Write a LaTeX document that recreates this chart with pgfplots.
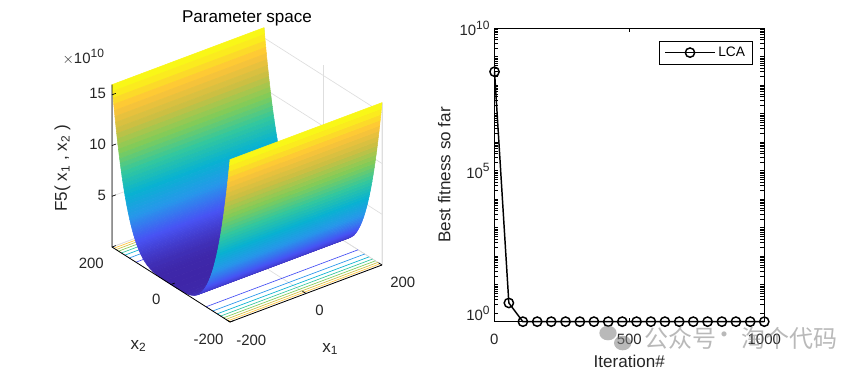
\documentclass[border=0pt]{standalone}
\usepackage{pgfplots}
\pgfplotsset{compat=1.18}
\usepackage{fontspec}
\setmainfont{Liberation Sans}
\newfontfamily\cjk{Noto Sans CJK SC}
\definecolor{p0}{rgb}{.2422,.1504,.6603}
\definecolor{p1}{rgb}{.2810,.3228,.9579}
\definecolor{p2}{rgb}{.1540,.5902,.9218}
\definecolor{p3}{rgb}{.0300,.7000,.8200}
\definecolor{p4}{rgb}{.2000,.7800,.6200}
\definecolor{p5}{rgb}{.5044,.7993,.3480}
\definecolor{p6}{rgb}{.8000,.7500,.2600}
\definecolor{p7}{rgb}{.9970,.7659,.2199}
\definecolor{p8}{rgb}{.9769,.9839,.0805}
\definecolor{tk}{gray}{.15}
\definecolor{gr}{gray}{.87}
\pgfplotsset{colormap={parula}{rgb=(.2422,.1504,.6603) rgb=(.2810,.3228,.9579) rgb=(.1540,.5902,.9218) rgb=(.0300,.7000,.8200) rgb=(.2000,.7800,.6200) rgb=(.5044,.7993,.3480) rgb=(.8000,.7500,.2600) rgb=(.9970,.7659,.2199) rgb=(.9769,.9839,.0805)}}
\newcommand{\pw}[1]{10\raisebox{.45em}{\fontsize{9}{9}\selectfont #1}}
\begin{document}
\begin{tikzpicture}
\path[use as bounding box] (0,0) rectangle (650.25pt,278.25pt);
\begin{axis}[
  at={(84pt,36.75pt)},anchor=south west,
  x={(0.285pt,0.1069pt)},y={(-0.22125pt,0.1406pt)},z={(0pt,7.61pt)},
  xmin=-200,xmax=200,ymin=-200,ymax=200,zmin=0,zmax=16,
  xtick={-200,0,200},ytick={-200,0,200},ztick={5,10,15},
  xticklabels={-200,0\kern10.5pt,200},
  yticklabels={-200,\kern7.5pt 0,200},
  grid=major,grid style={gr,line width=.5pt},
  major tick length=0pt,tick style={draw=none},
  axis line style={draw=none},
  clip=false,
  colormap name=parula,point meta min=0,point meta max=15.6,
  scaled ticks=false,
  /pgf/number format/assume math mode=true,
  tick label style={font=\fontsize{11.2}{12}\selectfont,text=tk},
  x tick label style={xshift=10pt,yshift=-3pt},
  y tick label style={xshift=-8pt,yshift=-1pt},
  z tick label style={xshift=-1pt},
  label style={font=\fontsize{12.8}{14}\selectfont,text=tk},
  xlabel={x\textsubscript{1}},ylabel={x\textsubscript{2}},zlabel={F5( x\textsubscript{1} , x\textsubscript{2} )},
  xlabel style={xshift=-3pt,yshift=-3pt},
  ylabel style={xshift=1.75pt,yshift=-8.5pt},
  zlabel style={xshift=-5pt,yshift=6.75pt},
  title={Parameter space},title style={font=\fontsize{12.8}{14}\selectfont,text=black,yshift=-8pt},
]
\draw[gr,line width=.5pt] (axis cs:200,-200,16) -- (axis cs:200,-200,0) -- (axis cs:200,200,0) -- (axis cs:-200,200,0);
\draw[gr,line width=.5pt] (axis cs:200,200,0) -- (axis cs:200,200,16);
\addplot3[p1,line width=.5pt,forget plot] coordinates {(-200,-118.9,0)(200,-118.9,0)};
\addplot3[p2,line width=.5pt,forget plot] coordinates {(-200,-141.4,0)(200,-141.4,0)};
\addplot3[p3,line width=.5pt,forget plot] coordinates {(-200,-156.5,0)(200,-156.5,0)};
\addplot3[p4,line width=.5pt,forget plot] coordinates {(-200,-168.2,0)(200,-168.2,0)};
\addplot3[p5,line width=.5pt,forget plot] coordinates {(-200,-177.8,0)(200,-177.8,0)};
\addplot3[p6,line width=.5pt,forget plot] coordinates {(-200,-186.1,0)(200,-186.1,0)};
\addplot3[p7,line width=.5pt,forget plot] coordinates {(-200,-193.4,0)(200,-193.4,0)};
\addplot3[p1,line width=.5pt,forget plot] coordinates {(-200,118.9,0)(200,118.9,0)};
\addplot3[p2,line width=.5pt,forget plot] coordinates {(-200,141.4,0)(200,141.4,0)};
\addplot3[p3,line width=.5pt,forget plot] coordinates {(-200,156.5,0)(200,156.5,0)};
\addplot3[p4,line width=.5pt,forget plot] coordinates {(-200,168.2,0)(200,168.2,0)};
\addplot3[p5,line width=.5pt,forget plot] coordinates {(-200,177.8,0)(200,177.8,0)};
\addplot3[p6,line width=.5pt,forget plot] coordinates {(-200,186.1,0)(200,186.1,0)};
\addplot3[p7,line width=.5pt,forget plot] coordinates {(-200,193.4,0)(200,193.4,0)};
\addplot3[surf,shader=flat,z buffer=none,mesh/rows=123,mesh/cols=2] table[row sep=\\] {
x y z\\
-200 200 16\\ 200 200 16\\
-200 198 15.3695\\ 200 198 15.3695\\
-200 196 14.7579\\ 200 196 14.7579\\
-200 194 14.1647\\ 200 194 14.1647\\
-200 192 13.5895\\ 200 192 13.5895\\
-200 190 13.0321\\ 200 190 13.0321\\
-200 188 12.4920\\ 200 188 12.4920\\
-200 186 11.9688\\ 200 186 11.9688\\
-200 184 11.4623\\ 200 184 11.4623\\
-200 182 10.9720\\ 200 182 10.9720\\
-200 180 10.4976\\ 200 180 10.4976\\
-200 178 10.0388\\ 200 178 10.0388\\
-200 176 9.5951\\ 200 176 9.5951\\
-200 174 9.1664\\ 200 174 9.1664\\
-200 172 8.7521\\ 200 172 8.7521\\
-200 170 8.3521\\ 200 170 8.3521\\
-200 168 7.9659\\ 200 168 7.9659\\
-200 166 7.5933\\ 200 166 7.5933\\
-200 164 7.2339\\ 200 164 7.2339\\
-200 162 6.8875\\ 200 162 6.8875\\
-200 160 6.5536\\ 200 160 6.5536\\
-200 158 6.2320\\ 200 158 6.2320\\
-200 156 5.9224\\ 200 156 5.9224\\
-200 154 5.6245\\ 200 154 5.6245\\
-200 152 5.3379\\ 200 152 5.3379\\
-200 150 5.0625\\ 200 150 5.0625\\
-200 148 4.7979\\ 200 148 4.7979\\
-200 146 4.5437\\ 200 146 4.5437\\
-200 144 4.2998\\ 200 144 4.2998\\
-200 142 4.0659\\ 200 142 4.0659\\
-200 140 3.8416\\ 200 140 3.8416\\
-200 138 3.6267\\ 200 138 3.6267\\
-200 136 3.4210\\ 200 136 3.4210\\
-200 134 3.2242\\ 200 134 3.2242\\
-200 132 3.0360\\ 200 132 3.0360\\
-200 130 2.8561\\ 200 130 2.8561\\
-200 128 2.6844\\ 200 128 2.6844\\
-200 126 2.5205\\ 200 126 2.5205\\
-200 124 2.3642\\ 200 124 2.3642\\
-200 122 2.2153\\ 200 122 2.2153\\
-200 120 2.0736\\ 200 120 2.0736\\
-200 118 1.9388\\ 200 118 1.9388\\
-200 116 1.8106\\ 200 116 1.8106\\
-200 114 1.6890\\ 200 114 1.6890\\
-200 112 1.5735\\ 200 112 1.5735\\
-200 110 1.4641\\ 200 110 1.4641\\
-200 108 1.3605\\ 200 108 1.3605\\
-200 106 1.2625\\ 200 106 1.2625\\
-200 104 1.1699\\ 200 104 1.1699\\
-200 102 1.0824\\ 200 102 1.0824\\
-200 100 1\\ 200 100 1\\
-200 96 .8493\\ 200 96 .8493\\
-200 92 .7164\\ 200 92 .7164\\
-200 88 .5997\\ 200 88 .5997\\
-200 84 .4979\\ 200 84 .4979\\
-200 80 .4096\\ 200 80 .4096\\
-200 70 .2401\\ 200 70 .2401\\
-200 60 .1296\\ 200 60 .1296\\
-200 50 .0625\\ 200 50 .0625\\
-200 40 .0256\\ 200 40 .0256\\
-200 20 .0016\\ 200 20 .0016\\
-200 0 0\\ 200 0 0\\
-200 -20 .0016\\ 200 -20 .0016\\
-200 -40 .0256\\ 200 -40 .0256\\
-200 -50 .0625\\ 200 -50 .0625\\
-200 -60 .1296\\ 200 -60 .1296\\
-200 -70 .2401\\ 200 -70 .2401\\
-200 -80 .4096\\ 200 -80 .4096\\
-200 -84 .4979\\ 200 -84 .4979\\
-200 -88 .5997\\ 200 -88 .5997\\
-200 -92 .7164\\ 200 -92 .7164\\
-200 -96 .8493\\ 200 -96 .8493\\
-200 -100 1\\ 200 -100 1\\
-200 -102 1.0824\\ 200 -102 1.0824\\
-200 -104 1.1699\\ 200 -104 1.1699\\
-200 -106 1.2625\\ 200 -106 1.2625\\
-200 -108 1.3605\\ 200 -108 1.3605\\
-200 -110 1.4641\\ 200 -110 1.4641\\
-200 -112 1.5735\\ 200 -112 1.5735\\
-200 -114 1.6890\\ 200 -114 1.6890\\
-200 -116 1.8106\\ 200 -116 1.8106\\
-200 -118 1.9388\\ 200 -118 1.9388\\
-200 -120 2.0736\\ 200 -120 2.0736\\
-200 -122 2.2153\\ 200 -122 2.2153\\
-200 -124 2.3642\\ 200 -124 2.3642\\
-200 -126 2.5205\\ 200 -126 2.5205\\
-200 -128 2.6844\\ 200 -128 2.6844\\
-200 -130 2.8561\\ 200 -130 2.8561\\
-200 -132 3.0360\\ 200 -132 3.0360\\
-200 -134 3.2242\\ 200 -134 3.2242\\
-200 -136 3.4210\\ 200 -136 3.4210\\
-200 -138 3.6267\\ 200 -138 3.6267\\
-200 -140 3.8416\\ 200 -140 3.8416\\
-200 -142 4.0659\\ 200 -142 4.0659\\
-200 -144 4.2998\\ 200 -144 4.2998\\
-200 -146 4.5437\\ 200 -146 4.5437\\
-200 -148 4.7979\\ 200 -148 4.7979\\
-200 -150 5.0625\\ 200 -150 5.0625\\
-200 -152 5.3379\\ 200 -152 5.3379\\
-200 -154 5.6245\\ 200 -154 5.6245\\
-200 -156 5.9224\\ 200 -156 5.9224\\
-200 -158 6.2320\\ 200 -158 6.2320\\
-200 -160 6.5536\\ 200 -160 6.5536\\
-200 -162 6.8875\\ 200 -162 6.8875\\
-200 -164 7.2339\\ 200 -164 7.2339\\
-200 -166 7.5933\\ 200 -166 7.5933\\
-200 -168 7.9659\\ 200 -168 7.9659\\
-200 -170 8.3521\\ 200 -170 8.3521\\
-200 -172 8.7521\\ 200 -172 8.7521\\
-200 -174 9.1664\\ 200 -174 9.1664\\
-200 -176 9.5951\\ 200 -176 9.5951\\
-200 -178 10.0388\\ 200 -178 10.0388\\
-200 -180 10.4976\\ 200 -180 10.4976\\
-200 -182 10.9720\\ 200 -182 10.9720\\
-200 -184 11.4623\\ 200 -184 11.4623\\
-200 -186 11.9688\\ 200 -186 11.9688\\
-200 -188 12.4920\\ 200 -188 12.4920\\
-200 -190 13.0321\\ 200 -190 13.0321\\
-200 -192 13.5895\\ 200 -192 13.5895\\
-200 -194 14.1647\\ 200 -194 14.1647\\
-200 -196 14.7579\\ 200 -196 14.7579\\
-200 -198 15.3695\\ 200 -198 15.3695\\
-200 -200 16\\ 200 -200 16\\
};
\draw[black,line width=.6pt] (axis cs:-200,200,16) -- (axis cs:-200,200,0) -- (axis cs:-200,-200,0) -- (axis cs:200,-200,0);
\draw[black,line width=.5pt] (axis cs:-200,200,5) -- (axis cs:-190,200,5);
\draw[black,line width=.5pt] (axis cs:-200,200,10) -- (axis cs:-190,200,10);
\draw[black,line width=.5pt] (axis cs:-200,200,15) -- (axis cs:-190,200,15);
\draw[black,line width=.5pt] (axis cs:-200,-200,0) -- (axis cs:-200,-188,0);
\draw[black,line width=.5pt] (axis cs:0,-200,0) -- (axis cs:0,-188,0);
\draw[black,line width=.5pt] (axis cs:200,-200,0) -- (axis cs:200,-188,0);
\draw[black,line width=.5pt] (axis cs:-200,-200,0) -- (axis cs:-190,-200,0);
\draw[black,line width=.5pt] (axis cs:-200,0,0) -- (axis cs:-190,0,0);
\draw[black,line width=.5pt] (axis cs:-200,200,0) -- (axis cs:-190,200,0);
\end{axis}
\node[text=tk,font=\fontsize{11.2}{12}\selectfont,anchor=east] at (81.5pt,235.5pt) {$\times$10\raisebox{.45em}{\fontsize{9}{9}\selectfont 10}};
\begin{axis}[
  at={(370.7pt,37pt)},anchor=south west,scale only axis,width=202.5pt,height=220pt,
  ymode=log,xmin=0,xmax=1000,ymin=0.507,ymax=1e10,
  xtick={0,500,1000},
  ytick={1,10,100,1000,10000,100000,1000000,10000000,100000000,1000000000,10000000000},
  yticklabels={\pw{0},,,,,\pw{5},,,,,\pw{10}},
  minor y tick num=0,
  tick align=inside,tick pos=both,
  tick style={black,line width=.5pt},major tick length=2.5pt,
  axis line style={black,line width=.6pt},
  clip=false,
  /pgf/number format/assume math mode=true,
  /pgf/number format/1000 sep={},
  tick label style={font=\fontsize{11.2}{12}\selectfont,text=tk},
  x tick label style={yshift=-6pt},
  label style={font=\fontsize{12.8}{14}\selectfont,text=tk},
  xlabel={Iteration\#},ylabel={Best fitness so far},
  xlabel style={yshift=-1pt},
  legend style={at={(0.957,0.957)},anchor=north east,draw=black,font=\fontsize{10.3}{11}\selectfont,inner xsep=3.5pt,inner ysep=2.2pt,legend cell align=left},
  legend image code/.code={\draw[mark repeat=2,mark phase=2,#1,line width=1.1pt] plot coordinates {(0pt,0pt)(18.7pt,0pt)(37.4pt,0pt)};},
]
\addplot[black,line width=1.1pt,mark=o,mark size=3.5pt,mark options={line width=1.1pt}] coordinates {
(1,3e8)(54,2.3)(106,.507)(159,.507)(211,.507)(264,.507)(317,.507)(369,.507)(422,.507)(474,.507)(527,.507)(580,.507)(632,.507)(685,.507)(737,.507)(790,.507)(843,.507)(895,.507)(948,.507)(1000,.507)};
\addlegendentry{LCA}
\end{axis}
\node[text=gray,opacity=.55,font=\cjk\fontsize{18}{18}\selectfont,anchor=west,inner sep=0pt] at (483.5pt,24.75pt) {公众号};
\node[text=gray,opacity=.55,font=\cjk\fontsize{18}{18}\selectfont,inner sep=0pt] at (543pt,24.75pt) {·};
\node[text=gray,opacity=.55,font=\cjk\fontsize{18}{18}\selectfont,anchor=east,inner sep=0pt] at (628.5pt,24.75pt) {淘个代码};
\fill[gray,opacity=.55] (456pt,28.5pt) ellipse (6.5pt and 5.5pt);
\fill[gray,opacity=.55] (467pt,21pt) ellipse (6.5pt and 5.5pt);
\end{tikzpicture}
\end{document}
